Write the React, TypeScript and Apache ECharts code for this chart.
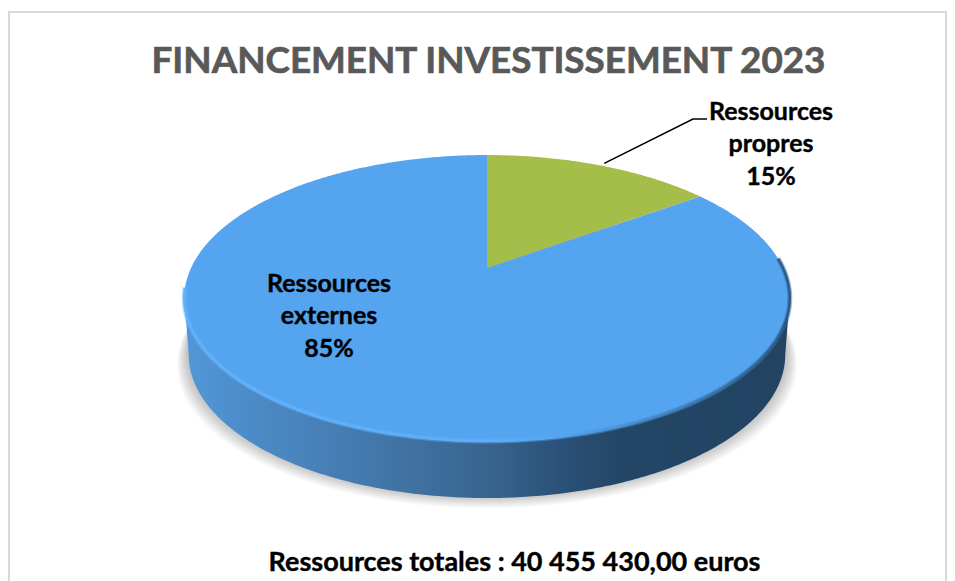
import React, { useEffect, useRef } from "react";
import * as echarts from "echarts";

const titleText = "FINANCEMENT INVESTISSEMENT 2023";
const footerText = "Ressources totales : 40 455 430,00 euros";
const categories = ["Ressources propres", "Ressources externes"];
const values = [15, 85];

const FONT = "Lato, 'Open Sans', sans-serif";

// Perspective projection of the pie's unit disc on the page
const CX = 487, CY = 268, A = 296, B = 136.7, K = 0.21;
const project = (t: number, r = 1, dy = 0, scale = 1): number[] => {
  const X = r * Math.sin(t);
  const Y = -r * Math.cos(t);
  const d = 1 - K * Y;
  return [CX + (scale * A * X) / d, CY + dy + (B * Y) / d];
};
const arcPoints = (a0: number, a1: number, dy = 0, scale = 1): number[][] => {
  const n = Math.max(2, Math.ceil(Math.abs(a1 - a0) / 0.01));
  const pts: number[][] = [];
  for (let i = 0; i <= n; i++) pts.push(project(a0 + ((a1 - a0) * i) / n, 1, dy, scale));
  return pts;
};

const total = values.reduce((s, v) => s + v, 0);
const TAU = Math.PI * 2;
const DEPTH = 57;
const H = (deg: number) => (deg * Math.PI) / 180;

const hGrad = (stops: [number, string][]) => ({
  type: "linear", x: 0, y: 0, x2: 1, y2: 0, global: false,
  colorStops: stops.map(([offset, color]) => ({ offset, color })),
});

const sliceColors = ["#A5BE4A", "#55A4EF"];

function renderPie(params: any, api: any) {
  if (params.dataIndex !== 0) {
    return { type: "group", children: [] };
  }
  const children: any[] = [];
  const lowerFront = arcPoints(H(102), H(258));
  const bottom = arcPoints(H(102), H(258), DEPTH, 0.985);
  // soft ground shadow built from stacked translucent layers, widest first
  for (let i = 10; i >= 0; i--) {
    children.push({
      type: "polygon",
      shape: { points: arcPoints(0, TAU, DEPTH - 4 + i * 1.4, 0.982 + i * 0.0042) },
      style: { fill: "rgba(0,0,0,0.028)" },
    });
  }
  // side wall
  children.push({
    type: "polygon",
    shape: { points: [...lowerFront, ...bottom.slice().reverse()] },
    style: {
      fill: hGrad([
        [0, "#5198D8"],
        [0.1, "#4C8CC9"],
        [0.3, "#4479AD"],
        [0.5, "#38658F"],
        [0.62, "#2B5178"],
        [0.72, "#244666"],
        [1, "#224362"],
      ]),
    },
  });
  // slices
  let acc = 0;
  const slices: any[] = [];
  values.forEach((v, i) => {
    const a0 = (acc / total) * TAU;
    acc += v;
    const a1 = (acc / total) * TAU;
    slices.push({
      type: "polygon",
      shape: { points: [project(0, 0), ...arcPoints(a0, a1)] },
      style: { fill: sliceColors[i] },
    });
  });
  children.push(...slices);
  // soft bevel on the front rim
  children.push({
    type: "polyline",
    shape: { points: arcPoints(H(262), H(86)) },
    style: {
      fill: "none",
      lineWidth: 5,
      opacity: 0.45,
      stroke: hGrad([
        [0, "#62B2FA"],
        [0.5, "#5EAEF8"],
        [0.62, "#55A4EF"],
        [0.88, "#3F7DB6"],
        [1, "#2F6290"],
      ]),
    },
  });
  children.push({
    type: "polyline",
    shape: { points: arcPoints(H(262), H(86)) },
    style: {
      fill: "none",
      lineWidth: 2.5,
      stroke: hGrad([
        [0, "#62B2FA"],
        [0.5, "#5EAEF8"],
        [0.62, "#55A4EF"],
        [0.88, "#3A74AA"],
        [1, "#2A5A86"],
      ]),
    },
  });
  // labels and leader line
  const midA = ((values[0] / 2) / total) * TAU;
  const anchor = project(midA);
  children.push({
    type: "polyline",
    shape: { points: [[anchor[0] + 4, anchor[1] - 2], [693, 119], [707, 119]] },
    style: { fill: "none", stroke: "#000000", lineWidth: 1.6 },
  });
  const lbl = (i: number, x: number, y: number) => {
    const [a, b] = categories[i].split(" ");
    return {
      type: "text",
      x, y,
      style: {
        text: `${a}\n${b}\n${values[i]}%`,
        fill: "#000000",
        stroke: "#000000",
        lineWidth: 0.4,
        font: `bold 25px ${FONT}`,
        lineHeight: 32.5,
        align: "center",
        verticalAlign: "middle",
      },
    };
  };
  children.push(lbl(0, 771, 142), lbl(1, 329, 314));
  return { type: "group", children };
}

export default function App() {
  const ref = useRef<HTMLDivElement>(null);
  useEffect(() => {
    const chart = echarts.init(ref.current!, undefined, { renderer: "svg" });
    chart.setOption({
      animation: false,
      backgroundColor: "#ffffff",
      title: [
        {
          text: titleText, left: 483.5, top: 54, textAlign: "center", textVerticalAlign: "middle",
          textStyle: { fontFamily: FONT, fontWeight: "bold", fontSize: 36.8, color: "#595959", textBorderColor: "#595959", textBorderWidth: 0.7 },
        },
        {
          text: footerText, left: 509.5, top: 555, textAlign: "center", textVerticalAlign: "middle",
          textStyle: { fontFamily: FONT, fontWeight: "bold", fontSize: 27, color: "#000000", textBorderColor: "#000000", textBorderWidth: 0.4 },
        },
      ],
      graphic: [
        { type: "polyline", silent: true, shape: { points: [[9, 581], [9, 12], [946, 12], [946, 581]] }, style: { fill: "none", stroke: "#D9D9D9", lineWidth: 2 } },
      ],
      series: [
        {
          type: "custom",
          coordinateSystem: "none",
          silent: true,
          clip: false,
          renderItem: renderPie,
          data: categories.map((name, i) => ({ name, value: values[i] })),
        },
      ],
    });
    return () => chart.dispose();
  }, []);
  return <div ref={ref} style={{ position: "absolute", left: 0, top: 0, width: 955, height: 581 }} />;
}
